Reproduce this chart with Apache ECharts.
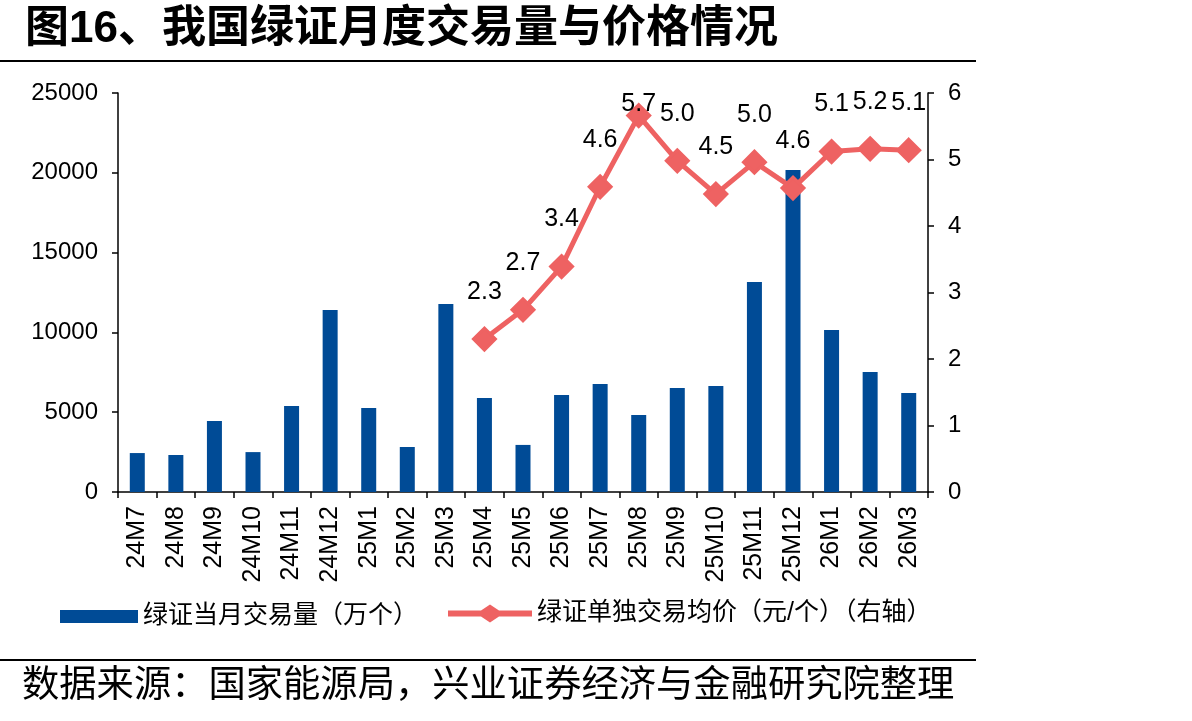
<!DOCTYPE html>
<html>
<head>
<meta charset="utf-8">
<script src="https://cdn.jsdelivr.net/npm/echarts@6/dist/echarts.min.js"></script>
<style>
  html, body { margin: 0; padding: 0; background: #fff; }
  #chart { width: 1192px; height: 721px; }
</style>
</head>
<body>
<div id="chart"></div>
<script>
// 月份
const months = ['24M7', '24M8', '24M9', '24M10', '24M11', '24M12', '25M1', '25M2', '25M3', '25M4', '25M5',
  '25M6', '25M7', '25M8', '25M9', '25M10', '25M11', '25M12', '26M1', '26M2', '26M3']
// 绿证当月交易量（万个）
const volume = [2440, 2320, 4450, 2500, 5390, 11400, 5260, 2820, 11780, 5890, 2950,
  6080, 6770, 4820, 6520, 6640, 13160, 20180, 10150, 7520, 6200]
// 绿证单独交易均价（元/个）
const price = ['-', '-', '-', '-', '-', '-', '-', '-', '-', 2.30, 2.74,
  3.39, 4.59, 5.66, 4.98, 4.48, 4.96, 4.57, 5.12, 5.16, 5.14]
const leftTicks = { min: 0, max: 25000, interval: 5000 }
const rightTicks = { min: 0, max: 6, interval: 1 }

const fontFamily = '"Liberation Sans", "Noto Sans CJK SC", sans-serif'
const barName = '绿证当月交易量（万个）'
const lineName = '绿证单独交易均价（元/个）（右轴）'
const lineColor = '#EE6262'

const myChart = echarts.init(document.getElementById('chart'))
const option = {
  animation: false,
  textStyle: { fontFamily: fontFamily },
  title: {
    text: '图16、我国绿证月度交易量与价格情况',
    left: 20,
    top: 3,
    textStyle: { fontSize: 44, fontWeight: 'bold', color: '#000', fontFamily: fontFamily }
  },
  graphic: [
    { type: 'line', shape: { x1: 0, y1: 61, x2: 976, y2: 61 }, style: { stroke: '#000', lineWidth: 2 } },
    { type: 'line', shape: { x1: 0, y1: 660, x2: 976, y2: 660 }, style: { stroke: '#000', lineWidth: 2 } },
    {
      type: 'text', left: 22, top: 668,
      style: { text: '数据来源：国家能源局，兴业证券经济与金融研究院整理', fontSize: 37.3, fill: '#000', fontFamily: fontFamily }
    }
  ],
  legend: [
    {
      left: 55, top: 599,
      itemWidth: 78, itemHeight: 13, itemGap: 10,
      textStyle: { fontSize: 25, color: '#000' },
      data: [{ name: barName, icon: 'rect' }]
    },
    {
      left: 443, top: 596,
      itemWidth: 84, itemHeight: 18, itemGap: 10,
      textStyle: { fontSize: 25, color: '#000' },
      data: [{
        name: lineName,
        // 粗线 + 菱形 图例
        icon: 'path://M0,6 L33,6 L42,0 L51,6 L84,6 L84,12 L51,12 L42,18 L33,12 L0,12 Z',
        itemStyle: { color: lineColor, borderWidth: 0 }
      }]
    }
  ],
  grid: { left: 118, right: 264, top: 93, bottom: 229 },
  xAxis: {
    type: 'category',
    data: months,
    axisLine: { lineStyle: { color: '#000', width: 1.5 } },
    axisTick: { show: true, inside: false, length: 6, lineStyle: { color: '#000', width: 1.5 } },
    axisLabel: { rotate: 90, interval: 0, margin: 14, fontSize: 25, color: '#000' }
  },
  yAxis: [
    {
      type: 'value',
      min: leftTicks.min, max: leftTicks.max, interval: leftTicks.interval,
      axisLine: { show: true, lineStyle: { color: '#000', width: 1.5 } },
      axisTick: { show: true, length: 6, lineStyle: { color: '#000', width: 1.5 } },
      axisLabel: { fontSize: 24, color: '#000', margin: 20, formatter: function (v) { return String(v) } },
      splitLine: { show: false }
    },
    {
      type: 'value',
      min: rightTicks.min, max: rightTicks.max, interval: rightTicks.interval,
      axisLine: { show: true, lineStyle: { color: '#000', width: 1.5 } },
      axisTick: { show: true, length: 6, lineStyle: { color: '#000', width: 1.5 } },
      axisLabel: { fontSize: 24, color: '#000', margin: 20 },
      splitLine: { show: false }
    }
  ],
  series: [
    {
      name: barName,
      type: 'bar',
      barWidth: 15,
      itemStyle: { color: '#004B96' },
      data: volume
    },
    {
      name: lineName,
      type: 'line',
      yAxisIndex: 1,
      symbol: 'diamond',
      symbolSize: 22,
      lineStyle: { color: lineColor, width: 5 },
      itemStyle: { color: lineColor, borderColor: lineColor, borderWidth: 3 },
      label: {
        show: true,
        position: 'inside',
        fontSize: 25,
        color: '#000',
        formatter: function (p) { return Number(p.value).toFixed(1) }
      },
      data: price.map(function (v, i) {
        if (v === '-') return v
        // 25M8 标签被图表顶部挤压
        const dy = months[i] === '25M8' ? -12 : -47
        return { value: v, label: { offset: [0, dy] } }
      })
    }
  ]
}
myChart.clear()
myChart.setOption(option)
window.addEventListener('resize', function () {
  myChart.resize()
})
</script>
</body>
</html>
